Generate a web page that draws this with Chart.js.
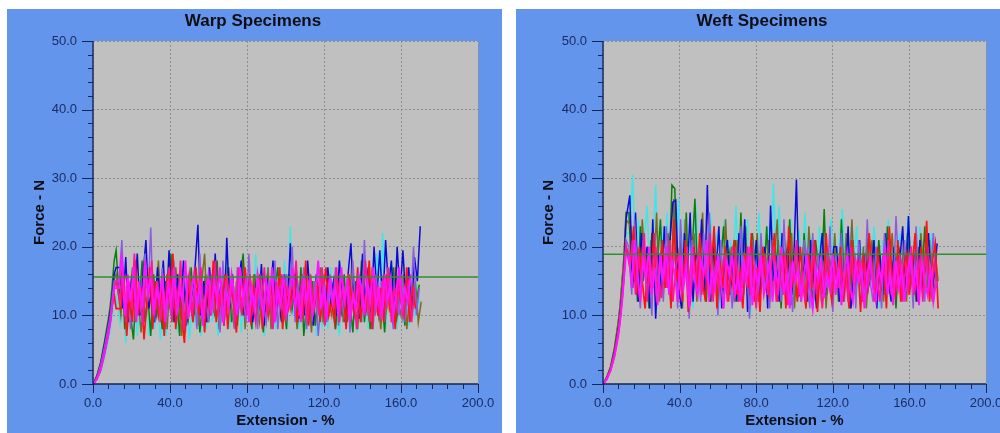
<!DOCTYPE html>
<html>
<head>
<meta charset="utf-8">
<script src="https://cdn.jsdelivr.net/npm/chart.js@4.4.1/dist/chart.umd.min.js"></script>
<style>
  html, body { margin: 0; padding: 0; background: #fff; width: 1000px; height: 433px; overflow: hidden; }
  .panel { position: absolute; top: 9px; width: 495px; height: 424px; background: #6495ed; }
  #warp-panel { left: 7px; }
  #weft-panel { left: 516px; }
</style>
</head>
<body>
<div class="panel" id="warp-panel"><canvas id="chart-warp" width="495" height="424"></canvas></div>
<div class="panel" id="weft-panel"><canvas id="chart-weft" width="495" height="424"></canvas></div>
<script>
/* Tensile force vs extension, eight specimens per direction.
   Three sampling grids (extension %, staggered by 0.5) are shared
   by the specimens; a curve stops where its force array ends. */
const EXT_A = [
  0, 2, 4, 6, 8, 9, 10, 11, 12,
  13.5, 15, 16.5, 18, 19.5, 21, 22.5, 24, 25.5, 27, 28.5, 30, 31.5, 33, 34.5,
  36, 37.5, 39, 40.5, 42, 43.5, 45, 46.5, 48, 49.5, 51, 52.5, 54, 55.5, 57,
  58.5, 60, 61.5, 63, 64.5, 66, 67.5, 69, 70.5, 72, 73.5, 75, 76.5, 78, 79.5,
  81, 82.5, 84, 85.5, 87, 88.5, 90, 91.5, 93, 94.5, 96, 97.5, 99, 100.5, 102,
  103.5, 105, 106.5, 108, 109.5, 111, 112.5, 114, 115.5, 117, 118.5, 120, 121.5, 123, 124.5,
  126, 127.5, 129, 130.5, 132, 133.5, 135, 136.5, 138, 139.5, 141, 142.5, 144, 145.5, 147,
  148.5, 150, 151.5, 153, 154.5, 156, 157.5, 159, 160.5, 162, 163.5, 165, 166.5, 168, 169.5,
  171, 172.5, 174
];
const EXT_B = [
  0, 2, 4, 6, 8, 9, 10, 11, 12,
  14, 15.5, 17, 18.5, 20, 21.5, 23, 24.5, 26, 27.5, 29, 30.5, 32, 33.5, 35,
  36.5, 38, 39.5, 41, 42.5, 44, 45.5, 47, 48.5, 50, 51.5, 53, 54.5, 56, 57.5,
  59, 60.5, 62, 63.5, 65, 66.5, 68, 69.5, 71, 72.5, 74, 75.5, 77, 78.5, 80,
  81.5, 83, 84.5, 86, 87.5, 89, 90.5, 92, 93.5, 95, 96.5, 98, 99.5, 101, 102.5,
  104, 105.5, 107, 108.5, 110, 111.5, 113, 114.5, 116, 117.5, 119, 120.5, 122, 123.5, 125,
  126.5, 128, 129.5, 131, 132.5, 134, 135.5, 137, 138.5, 140, 141.5, 143, 144.5, 146, 147.5,
  149, 150.5, 152, 153.5, 155, 156.5, 158, 159.5, 161, 162.5, 164, 165.5, 167, 168.5, 170,
  171.5, 173, 174.5
];
const EXT_C = [
  0, 2, 4, 6, 8, 9, 10, 11, 12,
  14.5, 16, 17.5, 19, 20.5, 22, 23.5, 25, 26.5, 28, 29.5, 31, 32.5, 34, 35.5,
  37, 38.5, 40, 41.5, 43, 44.5, 46, 47.5, 49, 50.5, 52, 53.5, 55, 56.5, 58,
  59.5, 61, 62.5, 64, 65.5, 67, 68.5, 70, 71.5, 73, 74.5, 76, 77.5, 79, 80.5,
  82, 83.5, 85, 86.5, 88, 89.5, 91, 92.5, 94, 95.5, 97, 98.5, 100, 101.5, 103,
  104.5, 106, 107.5, 109, 110.5, 112, 113.5, 115, 116.5, 118, 119.5, 121, 122.5, 124, 125.5,
  127, 128.5, 130, 131.5, 133, 134.5, 136, 137.5, 139, 140.5, 142, 143.5, 145, 146.5, 148,
  149.5, 151, 152.5, 154, 155.5, 157, 158.5, 160, 161.5, 163, 164.5, 166, 167.5, 169, 170.5,
  172, 173.5, 175
];

const X_TICKS = [0, 40, 80, 120, 160, 200];
const Y_TICKS = [0, 10, 20, 30, 40, 50];

/* ---- Warp specimens (N) ---- */
const WARP_MEAN = 15.6;
const WARP_BLUE = [0, 1.1, 3, 5.8, 8.8, 10.5, 13, 16, 17,
  17, 11, 18.5, 9, 15, 12, 19, 10, 16, 21, 11, 14, 9, 17, 12,
  18, 10, 19.5, 13, 9, 16, 11, 18, 8.5, 14, 12, 17, 23.2, 10, 15,
  9, 17, 12, 19, 10, 15, 8.5, 21.3, 11, 16, 9.5, 14, 18, 10, 13,
  16, 9, 14, 11, 17.5, 8.5, 15, 12, 18, 10, 14, 9, 16, 11, 20.5,
  12, 17, 9.5, 15, 10, 18, 12, 8.5, 16, 11, 14, 9, 17, 12, 15,
  10, 18, 13, 9, 16, 20.5, 11, 15, 9.5, 19, 12, 17, 10, 20, 13,
  19.5, 11, 21, 14, 18, 10, 20, 13, 19.5, 12, 17, 11, 18.5, 15, 23];
const WARP_GREEN = [0, 1.2, 3.2, 6.2, 9.5, 11.5, 14.5, 18, 19.5,
  13, 17, 8, 15, 10, 6.5, 14, 11, 18, 9, 13, 7, 16, 10, 12,
  8, 15, 11, 19, 9, 13, 7, 16, 12, 9.5, 17, 10, 14, 7.5, 12,
  16, 9, 13, 10.5, 18, 8, 14, 11, 17, 9, 12, 8.5, 15, 19, 10,
  13, 8, 16, 10, 12, 7.5, 15, 11, 9, 14, 17, 10, 12.5, 8, 16,
  11, 14, 9, 17, 7, 12, 10, 15, 8.5, 13, 16, 9.5, 12, 11, 14,
  8, 13, 10.5, 16, 9, 12, 7.5, 15, 11, 18, 9, 14, 8, 12, 16,
  10, 13, 7.5, 15, 11, 17, 9, 12, 14, 8.5, 16, 10, 13, 12, 14.5];
const WARP_CYAN = [0, 0.6, 1.8, 3.8, 6.5, 8, 10, 12.5, 13,
  9, 14, 6, 12, 8, 16, 7, 13, 9.5, 18, 7, 12, 8, 15, 6.5,
  11, 7, 14, 9, 17, 7.5, 12, 8, 15, 6.5, 11, 9, 16, 7, 13,
  8, 17, 9, 12, 7, 14, 10, 18, 8, 13, 9, 16, 7.5, 12, 10,
  15, 8, 19, 9, 13, 7, 17, 10, 12, 8, 14, 9.5, 18, 8, 23,
  10, 16, 8, 13, 7.5, 12, 9, 15, 7, 11, 8.5, 14, 8, 17, 9,
  12, 7, 15, 9, 11, 8, 16, 7.5, 13, 9, 18, 8, 14, 10, 19,
  9, 22, 8, 14, 10, 16, 8, 13, 9, 15, 8.5, 12, 10, 14, 11];
const WARP_PURPLE = [0, 1, 2.8, 5.4, 8.4, 10, 12.5, 15, 15,
  15, 21, 10, 14, 8, 17, 11, 13, 9, 19, 12, 22.8, 9, 15, 11,
  17, 8, 13, 10, 18, 9, 15, 12, 7.5, 16, 11, 14, 8, 19, 10,
  13, 9, 16, 11, 14, 7.5, 18, 10, 12, 15, 8, 17, 11, 13, 9,
  19, 10, 14, 8, 16, 12, 9, 15, 11, 18, 8, 13, 10, 16, 12,
  20, 9, 14, 11, 17, 8, 13, 10, 15, 7, 12, 16, 9, 14, 11,
  17, 8.5, 13, 10, 15, 7.5, 18, 11, 12, 9, 21, 10, 14, 8, 16,
  11, 15, 9, 17, 12, 8, 14, 10, 16, 9, 13, 11, 20, 10, 14];
const WARP_OLIVE = [0, 1, 2.9, 5.6, 8.6, 10.2, 12.8, 15.5, 16,
  10, 15, 8, 13, 17, 9, 12, 7.5, 14, 11, 16, 9, 13, 18, 10,
  12, 8, 15, 10, 17, 12, 7, 14, 9, 16, 11, 13, 8.5, 15, 19,
  9, 13, 11, 16, 8, 14, 10, 17, 12, 9, 15, 11, 18, 8, 13,
  10, 16, 12, 9, 14, 11, 17, 8, 13, 10, 15, 12, 9, 16, 11,
  14, 8, 12, 16, 10, 13, 7.5, 15, 11, 17, 9, 14, 12, 10, 15,
  11, 16, 9, 13, 10, 18, 12, 8, 15, 11, 14, 9, 17, 10, 13,
  8, 15, 11, 14, 9, 17, 12, 10, 16, 8, 13, 11, 15, 9, 12];
const WARP_RED = [0, 0.8, 2.2, 4.6, 7.5, 9.2, 11.5, 13, 11,
  11, 16, 7, 13, 9, 18, 10, 14, 6.5, 12, 17, 8, 15, 10, 13,
  7, 16, 11, 19, 8, 14, 10, 6, 15, 12, 9, 17, 10, 13, 7.5,
  15, 10, 18, 9, 13, 11, 16, 8, 14, 12, 7.5, 15, 10, 17, 11,
  9, 14, 12, 16, 8, 13, 10, 15, 9.5, 12, 17, 8, 14, 11, 13,
  16, 9, 12, 10, 18, 8.5, 14, 11, 15, 9, 13, 17, 10, 12, 9,
  15, 11, 14, 8, 16, 12, 10, 17, 9, 13, 11, 18, 8, 15, 10,
  14, 9, 16, 11, 13, 8, 15, 12, 10, 17, 9, 14, 11];
const WARP_PINK = [0, 0.7, 2.1, 4.5, 7.3, 9.1, 11.5, 14, 15,
  12, 17, 9, 15, 11, 19, 10, 14, 8.5, 16, 13, 18, 10, 15, 9,
  14, 11, 17, 9, 15, 12, 18, 8, 13, 16, 10, 14, 12, 17, 9.5,
  15, 11, 13, 18, 10, 14, 8.5, 16, 12, 15, 9, 17, 11, 14, 10,
  16, 12, 9, 15, 11, 17, 10, 13, 8, 15, 12, 16, 9.5, 14, 11,
  13, 18, 10, 15, 12, 9, 16, 11, 14, 10, 17, 8.5, 13, 15, 11,
  17, 9, 14, 12, 16, 10, 13, 8, 15, 11, 18, 12, 9, 16, 13,
  10, 15, 12, 17, 9, 14, 11, 16, 10, 13, 15, 9, 14];
const WARP_MAGENTA = [0, 0.7, 2, 4.4, 7.2, 9, 11.5, 14, 14,
  14, 19, 10, 16, 12, 17, 9, 15, 11, 18, 13, 16, 10, 14, 12,
  16, 9, 15, 11, 17, 10, 14, 12, 18, 9.5, 13, 16, 11, 15, 8.5,
  13, 16, 10, 15, 12, 17, 9, 14, 11, 16, 13, 10, 17, 12, 15,
  9, 14, 11, 16, 13, 10, 15, 12, 17, 9, 14, 11.5, 16, 10, 13,
  17, 11, 14, 9, 16, 12, 15, 10, 13, 18, 11, 14, 9.5, 16, 12,
  14, 10, 17, 12, 15, 9, 13, 11, 16, 14, 10, 15, 12, 17, 11,
  14, 9.5, 16, 12, 15, 10, 13, 17, 11, 14, 12, 16];

/* ---- Weft specimens (N) ---- */
const WEFT_MEAN = 18.9;
const WEFT_BLUE = [0, 0.9, 2.3, 4.8, 8.2, 10.5, 13.5, 17, 24,
  27.5, 14, 25, 12, 22, 17, 20, 11, 24, 9.5, 19, 13,
  23, 15, 21, 26.5, 26.8, 14, 11, 22, 16, 25, 12, 19,
  15, 24, 13, 29, 12, 20, 16, 23, 11, 18, 21, 13,
  19, 12, 22, 15, 24, 10.5, 18, 14, 21, 12, 17, 20,
  11, 26, 15, 18, 12, 22, 16, 20, 11.5, 17, 29.8, 13,
  14, 19, 12, 21, 16, 11, 18, 22, 13, 17, 15, 20,
  20, 12, 18, 14, 23, 11, 17, 15, 21, 12, 19, 14,
  16, 21, 11, 19, 13, 22, 15, 12, 20, 14, 18, 23,
  13, 24.5, 15, 19, 12, 21, 14, 17, 22, 13, 16, 20.5];
const WEFT_GREEN = [0, 1, 2.5, 5.2, 9, 11.5, 15, 18.5, 25,
  25, 16, 21, 12, 23, 15, 19, 11, 22, 14, 18, 24,
  13, 20, 16, 29, 28.5, 12, 21, 15, 25, 11, 19, 27,
  14, 22, 17, 12, 24, 15, 20, 11, 18, 23, 13, 19,
  16, 21, 12, 25, 14, 18, 11, 22, 17, 13, 20, 15,
  23, 12, 18, 15, 21, 11, 19, 16, 24, 13, 17, 20,
  12, 22, 15, 19, 11, 21, 17, 14, 25.5, 13, 18, 16,
  20, 12, 24, 15, 18, 11, 21, 14, 19, 16, 12, 22,
  15, 19, 12, 21, 16, 13, 23, 14, 18, 11, 20, 17,
  13, 22, 16, 19, 12, 20, 15, 23, 14, 18, 12, 16];
const WEFT_CYAN = [0, 0.9, 2.4, 5, 8.6, 11, 14, 17.5, 22,
  22, 30.5, 18, 24, 14, 21, 26, 16, 20, 29, 13, 23,
  17, 25, 12, 22, 19, 27, 14, 24, 16, 21, 11, 26,
  15, 23, 19, 13, 25, 17, 22, 11, 20, 24, 14, 21,
  18, 26, 13, 22, 16, 24, 10, 21, 17, 25, 14, 20,
  23, 15, 29.3, 18, 26, 13, 21, 17, 24, 12, 20, 22,
  16, 25, 14, 21, 19, 12, 23, 17, 20, 15, 24, 18,
  13, 21, 25.5, 16, 22, 14, 19, 23, 12, 20, 17, 22,
  15, 23, 18, 11, 21, 16, 24, 13, 20, 18, 22, 14,
  19, 24.5, 15, 21, 12, 23, 17, 20, 14, 22, 16, 19];
const WEFT_PURPLE = [0, 0.8, 2.2, 4.5, 7.8, 10, 13, 16.5, 21,
  20, 13, 24, 16, 11, 21, 15, 18, 10, 22, 14, 19,
  12, 23, 17, 14, 20, 11, 24, 15, 18, 9.5, 21, 16,
  19, 12, 22, 15, 25, 13, 17, 10, 21, 14, 18, 16,
  11, 20, 15, 23, 13, 18, 9.5, 21, 16, 12, 22, 14,
  18, 11, 21, 15, 19, 12, 24, 14, 17, 10.5, 20, 16,
  13, 21, 16, 11, 22, 15, 19, 12, 18, 14, 23, 10.5,
  19, 14, 22, 12, 17, 15, 20, 11, 21, 16, 13, 24,
  15, 12, 20, 17, 11, 22, 14, 19, 13, 24.5, 16, 12,
  21, 15, 18, 11, 23, 14, 19, 12, 20, 16, 22, 14];
const WEFT_OLIVE = [0, 1, 2.6, 5.3, 9.1, 11.7, 15.2, 18.8, 24,
  23, 15, 20, 12, 24, 17, 13, 21, 16, 25, 12, 19,
  16, 22, 13, 27, 15, 20, 11, 24, 14, 18, 22, 12,
  18, 25, 14, 20, 12, 22, 16, 19, 13, 24, 15, 20,
  12, 21, 17, 14, 23, 11, 19, 15, 22, 13, 18, 16,
  21, 13, 18, 24, 12, 17, 20, 14, 22, 11, 19, 15,
  20, 12, 23, 16, 13, 19, 15, 21, 11, 18, 14, 22,
  14, 19, 12, 22, 16, 24, 13, 18, 15, 20, 11, 17,
  21, 13, 18, 15, 12, 20, 16, 22, 13, 19, 14, 21,
  12, 20, 15, 18, 13, 22, 16, 14, 21, 12, 19, 15];
const WEFT_RED = [0, 0.8, 2, 4.2, 7.4, 9.6, 12.5, 16, 20,
  18, 23, 13, 20, 15, 11, 19, 14, 22, 12, 17, 21,
  14, 19, 11, 24, 15, 18, 12, 21, 10.5, 17, 20, 13,
  22, 15, 12, 19, 16, 23, 11, 18, 14, 20, 12, 17,
  21, 13, 16, 11, 19, 14, 22, 12, 17, 10.5, 20, 15,
  13, 18, 22, 12, 16, 19, 11, 23, 14, 17, 12, 20,
  15, 11, 19, 14, 21, 10.5, 17, 13, 22, 15, 12, 18,
  14, 20, 12, 17, 11, 21, 15, 18, 10.5, 19, 13, 22,
  16, 12, 20, 14, 18, 11, 23, 15, 13, 21, 12, 17,
  19, 13, 17, 22, 12, 20, 14, 23.8, 12, 18, 20.5, 11];
const WEFT_PINK = [0, 0.7, 2.1, 4.3, 7.5, 9.8, 12.5, 16, 20,
  17, 21, 13, 19, 15, 22, 12, 18, 14, 20, 16, 12.5,
  18, 14, 21, 12, 17, 19, 13, 16, 20, 11.5, 17, 15,
  20, 13, 17, 15, 22, 12, 18, 14, 16, 19, 12, 17,
  14, 19, 12, 17, 15, 20, 13, 16, 11, 18, 15, 19,
  13, 17, 20, 12, 16, 14, 19, 11.5, 17, 15, 21, 13,
  16, 12, 18, 15, 20, 13, 17, 11, 16, 19, 13, 17,
  15, 19, 13, 17, 12, 20, 14, 16, 18, 12, 17, 14,
  19, 13, 16, 12, 18, 15, 21, 13, 17, 14, 19, 12,
  17, 14, 20, 13, 16, 18, 12, 19, 15, 13, 18, 14];
const WEFT_MAGENTA = [0, 0.7, 2, 4, 7, 9.3, 12, 15.5, 19,
  19, 14, 21, 16, 12, 18, 15, 20, 13, 17, 11.5, 19,
  15, 20, 13, 18, 16, 12, 19, 14, 17, 11, 20, 15,
  13, 18, 16, 21, 12, 17, 14, 19, 15, 11, 18, 16,
  19, 13, 16, 12, 18, 15, 20, 11.5, 17, 14, 19, 13,
  15, 18, 12, 17, 14, 20, 13, 16, 11, 18, 15, 17,
  12, 16, 19, 14, 11, 17, 15, 18, 12.5, 16, 14, 19,
  13, 17, 11.5, 16, 19, 14, 12, 18, 15, 17, 11, 16,
  18, 14, 12, 17, 15, 20, 13, 16, 11.5, 18, 14, 17,
  12, 16, 19, 14, 17, 11.5, 18, 15, 13, 17, 12, 15];

const FONT = "'Liberation Sans', Arial, sans-serif";
const C = {
  axis: '#14255a', tickText: '#1b2c62', title: '#0d0d14',
  plot: '#c0c0c0', grid: '#8e8e8e', mean: '#2f8f2f',
  blue: '#0a0ad8', green: '#0a7d0a', cyan: '#3ee6e6', olive: '#7d6a22',
  purple: '#8c5ce0', red: '#ff1212', pink: '#ff1494', magenta: '#ff14ff'
};

const pts = (ext, ys) => ys.map((y, i) => ({ x: ext[i], y }));
const line = (ext, ys, color, w) => ({ data: pts(ext, ys), borderColor: color, borderWidth: w || 1.5, pointRadius: 0, fill: false, tension: 0 });

// grey plot area, panel title, axis lines and outward tick marks (major long, minor short)
const frame = {
  id: 'frame',
  beforeDraw(chart) {
    const { ctx, chartArea: a } = chart;
    ctx.save();
    ctx.fillStyle = C.plot;
    ctx.fillRect(a.left, a.top, a.right - a.left, a.bottom - a.top);
    ctx.restore();
  },
  afterDraw(chart, args, opts) {
    const { ctx, chartArea: a } = chart;
    const xs = chart.scales.x, ys = chart.scales.y;
    ctx.save();
    ctx.fillStyle = C.title;
    ctx.font = 'bold 17px ' + FONT;
    ctx.textAlign = 'center';
    ctx.textBaseline = 'middle';
    ctx.fillText(opts.title, opts.titleX, 12);

    ctx.strokeStyle = C.axis;
    ctx.lineWidth = 1.4;
    ctx.beginPath();
    ctx.moveTo(a.left, a.top); ctx.lineTo(a.left, a.bottom); ctx.lineTo(a.right, a.bottom);
    ctx.stroke();
    ctx.lineWidth = 1;
    ctx.beginPath();
    xs.ticks.forEach(t => {
      const px = Math.round(xs.getPixelForValue(t.value)) + 0.5;
      const len = X_TICKS.includes(t.value) ? 9 : 5;
      ctx.moveTo(px, a.bottom); ctx.lineTo(px, a.bottom + len);
    });
    ys.ticks.forEach(t => {
      const py = Math.round(ys.getPixelForValue(t.value)) + 0.5;
      const len = Y_TICKS.includes(t.value) ? 11 : 5;
      ctx.moveTo(a.left - len, py); ctx.lineTo(a.left, py);
    });
    ctx.stroke();
    ctx.restore();
  }
};

function build(id, title, mean, series, yWidth, padRight) {
  const el = document.getElementById(id);
  const meanLine = { data: [{ x: 0, y: mean }, { x: 200, y: mean }], borderColor: C.mean, borderWidth: 1.5, pointRadius: 0, fill: false };
  return new Chart(el.getContext('2d'), {
    type: 'line',
    data: { datasets: [meanLine].concat(series) },
    plugins: [frame],
    options: {
      responsive: false,
      animation: false,
      events: [],
      layout: { padding: { left: 0, right: padRight, top: 32, bottom: 0 } },
      plugins: {
        legend: { display: false },
        tooltip: { enabled: false },
        title: { display: false },
        frame: { title: title, titleX: 246 }
      },
      scales: {
        x: {
          type: 'linear', min: 0, max: 200,
          grid: { color: (c) => c.tick && X_TICKS.includes(c.tick.value) ? C.grid : 'rgba(0,0,0,0)', drawTicks: false, lineWidth: 1 },
          border: { display: false, dash: [2, 2] },
          ticks: {
            stepSize: 8, autoSkip: false, maxRotation: 0, maxTicksLimit: 100, padding: 12,
            color: C.tickText, font: { family: FONT, size: 13 },
            callback: (v) => X_TICKS.includes(v) ? v.toFixed(1) : ''
          },
          title: { display: true, text: 'Extension - %', color: C.title, font: { family: FONT, size: 15, weight: 'bold' }, padding: { top: 0, bottom: 3 } },
          // the "200.0" label may hang past the plot; keep the layout padding in charge
          afterFit: (s) => { s.height = 49; s.paddingLeft = 0; s.paddingRight = 0; }
        },
        y: {
          type: 'linear', min: 0, max: 50,
          grid: { color: (c) => c.tick && Y_TICKS.includes(c.tick.value) ? C.grid : 'rgba(0,0,0,0)', drawTicks: false, lineWidth: 1 },
          border: { display: false, dash: [2, 2] },
          ticks: {
            stepSize: 2, autoSkip: false, maxTicksLimit: 100, padding: 16,
            color: C.tickText, font: { family: FONT, size: 13 },
            callback: (v) => Y_TICKS.includes(v) ? v.toFixed(1) : ''
          },
          title: { display: true, text: 'Force - N', color: C.title, font: { family: FONT, size: 15, weight: 'bold' }, padding: { top: 24, bottom: 0 } },
          afterFit: (s) => { s.width = yWidth; s.paddingTop = 0; s.paddingBottom = 0; }
        }
      }
    }
  });
}

// first dataset is painted last, so the list runs top layer first
build('chart-warp', 'Warp Specimens', WARP_MEAN, [
  line(EXT_A, WARP_MAGENTA, C.magenta, 1.9), line(EXT_B, WARP_PINK, C.pink, 1.7),
  line(EXT_C, WARP_RED, C.red, 1.7), line(EXT_A, WARP_PURPLE, C.purple),
  line(EXT_B, WARP_BLUE, C.blue), line(EXT_C, WARP_OLIVE, C.olive),
  line(EXT_A, WARP_GREEN, C.green), line(EXT_B, WARP_CYAN, C.cyan)
], 86, 24);
build('chart-weft', 'Weft Specimens', WEFT_MEAN, [
  line(EXT_A, WEFT_MAGENTA, C.magenta, 1.9), line(EXT_B, WEFT_PINK, C.pink, 1.7),
  line(EXT_C, WEFT_RED, C.red, 1.7), line(EXT_A, WEFT_PURPLE, C.purple),
  line(EXT_B, WEFT_BLUE, C.blue), line(EXT_C, WEFT_OLIVE, C.olive),
  line(EXT_A, WEFT_GREEN, C.green), line(EXT_B, WEFT_CYAN, C.cyan)
], 87, 25);
</script>
</body>
</html>
